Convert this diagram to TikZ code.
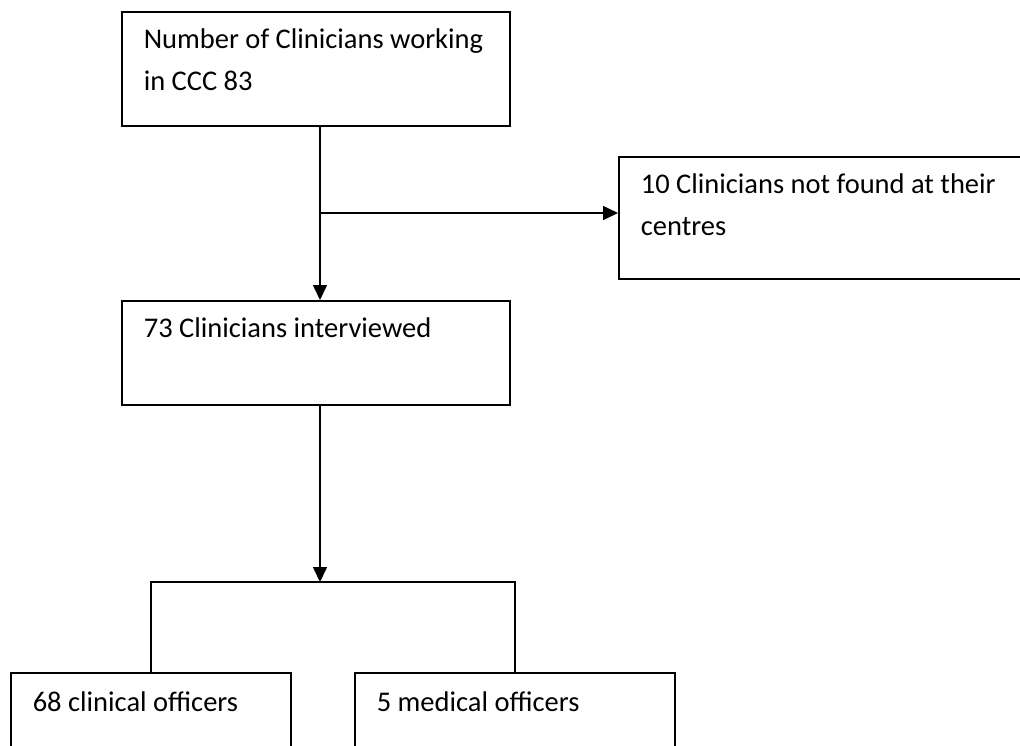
\documentclass[tikz,border=0pt]{standalone}
\usepackage{fontspec}
\setmainfont{Carlito}
\usepackage{tikz}
\usetikzlibrary{arrows.meta, positioning}

\begin{document}
\begin{tikzpicture}[x=1pt,y=-1pt,>={Triangle[length=15pt,width=14pt]}]
    \tikzstyle{box}=[shape=rectangle,draw,line width=1.6pt,anchor=north west,align=flush left,inner xsep=22pt,inner ysep=0pt,text height=37pt,font=\fontsize{28.5}{42}\selectfont]

    \clip (0,0) rectangle (1020,745);

    \node[box, text width=344pt, text depth=77pt] (A) at (121,11) {Number of Clinicians working\\in CCC 83};
    \node[box, text width=400pt, text depth=85pt] (R) at (618,156) {10 Clinicians not found at their\\centres};
    \node[box, text width=344pt, text depth=67pt] (M) at (121,300) {73 Clinicians interviewed};
    \node[box, text width=236pt, text depth=120pt, text height=39pt] (L) at (10,672) {68 clinical officers};
    \node[box, text width=276pt, text depth=120pt, text height=39pt] (Rt) at (354,672) {5 medical officers};

    \coordinate (T) at (320,0);
    \coordinate (J) at (T |- 0,213);
    \coordinate (K) at (J -| R.west);
    \coordinate (S) at (T |- 0,582);

    \path[->, line width=1.6pt]
    (A.south -| T) edge (M.north -| T)
    (J) edge (K)
    (M.south -| T) edge (S)
    ;

    \draw[line width=1.6pt] (L.north) -- (L.north |- S) -- (Rt.north |- S) -- (Rt.north);

\end{tikzpicture}
\end{document}
